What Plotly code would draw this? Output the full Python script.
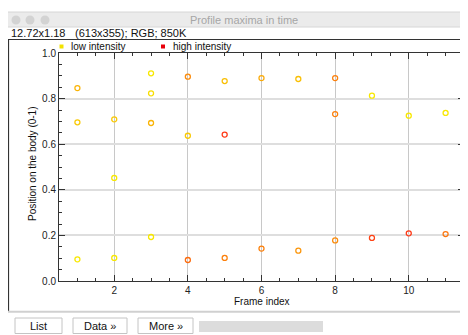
import plotly.graph_objects as go

# ---------------- data ----------------
frame_index = [1, 1, 1, 2, 2, 2, 3, 3, 3, 3, 4, 4, 4, 5, 5, 5, 6, 6, 7, 7, 8, 8, 8, 9, 9, 10, 10, 11, 11]
position = [0.846, 0.696, 0.095, 0.709, 0.452, 0.101, 0.911, 0.823, 0.693, 0.193,
            0.896, 0.637, 0.092, 0.877, 0.642, 0.101, 0.890, 0.142, 0.886, 0.133,
            0.890, 0.732, 0.178, 0.813, 0.189, 0.725, 0.209, 0.737, 0.206]
intensity = [0.25, 0.15, 0.0, 0.15, 0.0, 0.0, 0.0, 0.05, 0.25, 0.0,
             0.45, 0.15, 0.6, 0.2, 0.85, 0.5, 0.3, 0.5, 0.2, 0.4,
             0.5, 0.5, 0.45, 0.0, 0.8, 0.0, 0.85, 0.0, 0.55]
legend_labels = ["low intensity", "high intensity"]
window_title = "Profile maxima in time"
info_a = "12.72x1.18"
info_b = "(613x355); RGB; 850K"
buttons = ["List", "Data \u00bb", "More \u00bb"]
x_title = "Frame index"
y_title = "Position on the body (0-1)"

# ---------------- style ----------------
OFF = 8  # default page margin of the html body
W, H = 460, 327
L, R, T, B = 51, 4, 45, 54
FONT = "Liberation Sans, Arial, Helvetica, sans-serif"
LO = (248, 232, 0)
HI = (255, 25, 25)


def col(t):
    c = [round(LO[i] + (HI[i] - LO[i]) * t) for i in range(3)]
    return "rgb(%d,%d,%d)" % tuple(c)


def px(x):  # page pixel -> paper
    return (x - OFF - L) / (W - L - R)


def py(y):
    return (H - B - (y - OFF)) / (H - T - B)


fig = go.Figure()
fig.add_trace(go.Scatter(
    x=frame_index, y=position, mode="markers",
    marker=dict(symbol="circle-open", size=5,
                color=[col(t) for t in intensity],
                line=dict(width=1.3)),
    showlegend=False, hoverinfo="skip"))

shapes = []
ann = []

# window chrome
shapes.append(dict(type="rect", xref="paper", yref="paper", x0=px(7), x1=px(470), y0=py(27), y1=py(12),
                   fillcolor="#ebebeb", line=dict(color="#d6d6d6", width=1), layer="below"))
for cx in (16, 30, 45):
    shapes.append(dict(type="circle", xref="paper", yref="paper", x0=px(cx - 4.5), x1=px(cx + 4.5),
                       y0=py(20 + 4.5), y1=py(20 - 4.5), fillcolor="#d3d3d3", line=dict(width=0)))
ann.append(dict(text=window_title, x=px(243.5), y=py(20), xref="paper", yref="paper", showarrow=False,
                xanchor="center", yanchor="middle", font=dict(family=FONT, size=11, color="#a6a6a6")))
ann.append(dict(text=info_a, x=px(9), y=py(33), xref="paper", yref="paper", showarrow=False,
                xanchor="left", yanchor="middle", font=dict(family=FONT, size=11, color="#111")))
ann.append(dict(text=info_b, x=px(73), y=py(33), xref="paper", yref="paper", showarrow=False,
                xanchor="left", yanchor="middle", font=dict(family=FONT, size=11, color="#111")))

# image frame
shapes.append(dict(type="line", xref="paper", yref="paper", x0=px(8), x1=px(470), y0=py(39.5), y1=py(39.5),
                   line=dict(color="#333", width=1.2)))
shapes.append(dict(type="line", xref="paper", yref="paper", x0=px(8.5), x1=px(8.5), y0=py(39.5), y1=py(311),
                   line=dict(color="#333", width=1.2)))
shapes.append(dict(type="line", xref="paper", yref="paper", x0=px(7), x1=px(470), y0=py(311.8), y1=py(311.8),
                   line=dict(color="#d0d0d0", width=2)))

# buttons
btn_x = [(15, 62), (73, 127), (138, 193)]
for (a, b), label in zip(btn_x, buttons):
    shapes.append(dict(type="rect", xref="paper", yref="paper", x0=px(a), x1=px(b), y0=py(333.5), y1=py(318),
                       fillcolor="white", line=dict(color="#c4c4c4", width=1)))
    ann.append(dict(text=label, x=px((a + b) / 2), y=py(326), xref="paper", yref="paper", showarrow=False,
                    xanchor="center", yanchor="middle", font=dict(family=FONT, size=11, color="#111")))
shapes.append(dict(type="rect", xref="paper", yref="paper", x0=px(199), x1=px(323), y0=py(332), y1=py(321),
                   fillcolor="#dcdcdc", line=dict(width=0)))

# legend
for (x0, c), label in zip([(59.5, "#f2e200"), (161, "#e8000a")], legend_labels):
    shapes.append(dict(type="rect", xref="paper", yref="paper", x0=px(x0), x1=px(x0 + 4), y0=py(48.5), y1=py(44.5),
                       fillcolor=c, line=dict(width=0)))
    ann.append(dict(text=label, x=px(x0 + 9.5), y=py(46.3), xref="paper", yref="paper", showarrow=False,
                    xanchor="left", yanchor="middle", font=dict(family=FONT, size=10, color="#111")))

# axis titles
ann.append(dict(text=x_title, x=px(261.5), y=py(301), xref="paper", yref="paper", showarrow=False,
                xanchor="center", yanchor="middle", font=dict(family=FONT, size=10, color="#111")))
ann.append(dict(text=y_title, x=px(32), y=py(164), xref="paper", yref="paper", showarrow=False, textangle=-90,
                xanchor="center", yanchor="middle", font=dict(family=FONT, size=10, color="#111")))

fig.update_layout(
    width=W, height=H, margin=dict(l=L, r=R, t=T, b=B),
    paper_bgcolor="white", plot_bgcolor="white",
    shapes=shapes, annotations=ann, showlegend=False,
    xaxis=dict(range=[0.5, 11.5], tick0=0, dtick=2, ticks="inside", ticklen=6, tickwidth=1, tickcolor="#333",
               showline=True, linecolor="#333", linewidth=1, mirror="ticks",
               showgrid=True, gridcolor="#c8c8c8", gridwidth=1, zeroline=False,
               minor=dict(dtick=0.5, tick0=0, ticks="inside", ticklen=3, tickcolor="#333", showgrid=False),
               tickfont=dict(family=FONT, size=10, color="#222"), fixedrange=True),
    yaxis=dict(range=[0, 1], tick0=0, dtick=0.2, tickformat=".1f", ticks="inside", ticklen=6, tickwidth=1,
               tickcolor="#333", showline=True, linecolor="#333", linewidth=1, mirror="ticks",
               showgrid=True, gridcolor="#dedede", gridwidth=2, zeroline=False,
               minor=dict(dtick=0.05, tick0=0, ticks="inside", ticklen=3, tickcolor="#333", showgrid=False),
               tickfont=dict(family=FONT, size=10, color="#222"), fixedrange=True),
)

fig.write_html("out.html")
